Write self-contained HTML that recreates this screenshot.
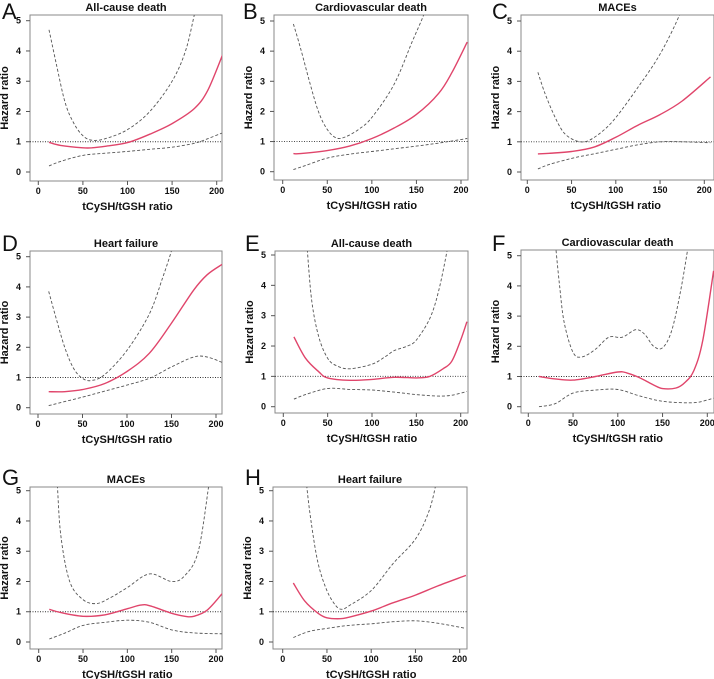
<!DOCTYPE html>
<html><head><meta charset="utf-8">
<style>
body{margin:0;background:#fff;}
svg{display:block;font-family:"Liberation Sans","DejaVu Sans",sans-serif;}
</style></head>
<body>
<svg id="fig" width="714" height="679" viewBox="0 0 714 679" xmlns="http://www.w3.org/2000/svg"></svg>
<script>
const xTicks=[0,50,100,150,200];
const yTicks=[0,1,2,3,4,5];
const titles=["All-cause death","Cardiovascular death","MACEs","Heart failure","All-cause death","Cardiovascular death","MACEs","Heart failure"];
const letters=["A","B","C","D","E","F","G","H"];
// series: [x values, y values]
const aRedX=[12,25,50,60,75,100,125,150,175,190,207];
const aRedY=[0.98,0.88,0.8,0.8,0.85,0.97,1.25,1.6,2.1,2.7,3.9];
const aUpX=[12,20,30,40,50,60,75,100,125,150,165,175,180];
const aUpY=[4.7,3.6,2.3,1.6,1.2,1.05,1.1,1.4,2.0,3.0,4.0,5.2,5.8];
const aLoX=[12,25,50,75,100,125,150,175,190,207];
const aLoY=[0.2,0.35,0.55,0.62,0.68,0.75,0.82,0.95,1.1,1.3];
const bRedX=[12,20,50,75,100,125,150,175,190,207];
const bRedY=[0.6,0.6,0.7,0.85,1.1,1.45,1.9,2.6,3.3,4.3];
const bUpX=[12,20,30,40,50,60,70,85,100,125,145,158,163];
const bUpY=[4.9,4.1,3.0,2.0,1.4,1.12,1.15,1.4,1.8,2.9,4.3,5.2,5.8];
const bLoX=[12,25,50,75,100,125,150,175,207];
const bLoY=[0.07,0.2,0.45,0.58,0.67,0.76,0.85,0.95,1.1];
const cRedX=[12,25,50,75,100,125,150,175,207];
const cRedY=[0.6,0.62,0.68,0.82,1.15,1.55,1.9,2.35,3.15];
const cUpX=[12,20,30,40,50,60,70,85,100,125,150,172,177];
const cUpY=[3.3,2.6,1.9,1.35,1.1,1.0,1.05,1.35,1.8,2.8,3.9,5.2,5.8];
const cLoX=[12,25,50,75,100,125,150,175,207];
const cLoY=[0.1,0.25,0.45,0.6,0.75,0.9,1.0,1.0,0.97];
const dRedX=[12,30,50,75,100,125,150,175,190,207];
const dRedY=[0.53,0.53,0.6,0.8,1.2,1.8,2.8,3.9,4.4,4.75];
const dUpX=[12,20,30,40,50,60,75,100,125,140,150,155];
const dUpY=[3.85,3.0,2.0,1.3,0.97,0.9,1.1,1.9,3.1,4.3,5.2,5.8];
const dLoX=[12,50,75,100,125,150,175,190,207];
const dLoY=[0.07,0.35,0.55,0.75,0.97,1.35,1.68,1.68,1.5];
const eRedX=[12,25,40,50,75,100,125,150,165,180,190,200,207];
const eRedY=[2.3,1.6,1.15,0.95,0.87,0.9,0.97,0.95,1.0,1.25,1.5,2.2,2.8];
const eUpX=[25,27,32,40,50,60,75,100,115,125,140,150,165,175,185,188];
const eUpY=[6.0,5.2,3.5,2.3,1.6,1.35,1.25,1.4,1.65,1.85,2.0,2.2,2.9,3.8,5.2,5.8];
const eLoX=[12,25,50,75,100,125,150,175,190,207];
const eLoY=[0.25,0.4,0.6,0.57,0.55,0.48,0.4,0.35,0.38,0.5];
const fRedX=[12,30,50,75,100,110,125,140,150,165,175,185,195,207];
const fRedY=[1.0,0.92,0.88,1.0,1.15,1.12,0.95,0.72,0.6,0.62,0.8,1.2,2.2,4.5];
const fUpX=[29,31,35,40,50,60,75,90,105,120,130,140,150,160,170,178,181];
const fUpY=[6.0,5.2,4.0,2.8,1.8,1.65,1.9,2.3,2.3,2.55,2.4,2.0,1.95,2.5,3.8,5.2,5.8];
const fLoX=[12,30,50,75,100,125,150,175,190,207];
const fLoY=[0.0,0.1,0.45,0.55,0.57,0.35,0.18,0.13,0.15,0.28];
const gRedX=[12,25,50,75,100,115,125,150,165,175,190,207];
const gRedY=[1.08,0.97,0.85,0.9,1.1,1.22,1.2,0.95,0.85,0.85,1.05,1.6];
const gUpX=[19,21,25,35,50,65,80,100,125,150,165,180,192,195];
const gUpY=[6.0,5.2,3.5,2.0,1.4,1.27,1.45,1.8,2.25,2.0,2.2,3.0,5.2,5.8];
const gLoX=[12,30,50,75,100,125,150,175,207];
const gLoY=[0.1,0.3,0.55,0.65,0.72,0.65,0.4,0.3,0.27];
const hRedX=[12,25,40,50,65,75,100,125,150,175,207];
const hRedY=[1.95,1.35,0.95,0.8,0.77,0.82,1.02,1.3,1.55,1.85,2.2];
const hUpX=[25,27,32,40,50,60,67,75,100,125,150,165,173,176];
const hUpY=[6.0,5.2,4.0,2.6,1.7,1.2,1.08,1.2,1.7,2.6,3.4,4.3,5.2,5.8];
const hLoX=[12,30,50,75,100,125,150,175,207];
const hLoY=[0.15,0.35,0.45,0.55,0.6,0.67,0.7,0.62,0.45];

const series=[
 [[aRedX,aRedY],[aUpX,aUpY],[aLoX,aLoY]],
 [[bRedX,bRedY],[bUpX,bUpY],[bLoX,bLoY]],
 [[cRedX,cRedY],[cUpX,cUpY],[cLoX,cLoY]],
 [[dRedX,dRedY],[dUpX,dUpY],[dLoX,dLoY]],
 [[eRedX,eRedY],[eUpX,eUpY],[eLoX,eLoY]],
 [[fRedX,fRedY],[fUpX,fUpY],[fLoX,fLoY]],
 [[gRedX,gRedY],[gUpX,gUpY],[gLoX,gLoY]],
 [[hRedX,hRedY],[hUpX,hUpY],[hLoX,hLoY]]
];
// layout: box left,right,top,bottom, x0px,x200px, y0px,y5px, letter x,y
const layout=[
 [30,222,15,181,38.3,216.7,172,20.7,2,19],
 [274,468,15,180,282.7,461,171.7,21,243,19],
 [521,714,15,180,527.3,704.3,172,21,492,19],
 [30,222,251,414,38,216,407.7,256.7,2,251],
 [275,468,251,413,283.3,460.7,406.7,255,245,251],
 [521,714,250,413,528.3,707.3,406.7,255.7,492,251],
 [30,222,487,649,38.7,216,642,490.7,2,485],
 [273,467,487,649,282.7,459.7,642,490.7,245,485]
];
const NS="http://www.w3.org/2000/svg";
const svg=document.getElementById('fig');
function mk(tag,attrs,parent){const e=document.createElementNS(NS,tag);for(const k in attrs)e.setAttribute(k,attrs[k]);(parent||svg).appendChild(e);return e;}
function smooth(pts){
 let d="M"+pts[0][0].toFixed(1)+","+pts[0][1].toFixed(1);
 for(let i=0;i<pts.length-1;i++){
  const p0=pts[Math.max(0,i-1)],p1=pts[i],p2=pts[i+1],p3=pts[Math.min(pts.length-1,i+2)];
  const c1=[p1[0]+(p2[0]-p0[0])/6,p1[1]+(p2[1]-p0[1])/6];
  const c2=[p2[0]-(p3[0]-p1[0])/6,p2[1]-(p3[1]-p1[1])/6];
  d+=" C"+c1[0].toFixed(1)+","+c1[1].toFixed(1)+" "+c2[0].toFixed(1)+","+c2[1].toFixed(1)+" "+p2[0].toFixed(1)+","+p2[1].toFixed(1);
 }
 return d;
}
layout.forEach((L,i)=>{
 const [bl,br,bt,bb,x0,x2,y0,y5,lx,ly]=L;
 const g=mk('g',{});
 
 
 const sx=v=>x0+(x2-x0)*v/200, sy=v=>y0+(y5-y0)*v/5;
 const cp=mk('clipPath',{id:'clip'+i},g);
 mk('rect',{x:bl,y:bt,width:br-bl,height:bb-bt},cp);
 const box=mk('rect',{x:bl,y:bt,width:br-bl,height:bb-bt,fill:'none',stroke:'#8a8a8a','stroke-width':1},g);
 
 
 const lt=mk('text',{x:lx,y:ly,'font-size':22,fill:'#111'},g);lt.textContent=letters[i];
 
 
 const tt=mk('text',{x:(bl+Math.min(br,714))/2,y:bt-4,'font-size':11,'font-weight':'bold','text-anchor':'middle',fill:'#111'},g);tt.textContent=titles[i];
 
 
 xTicks.forEach(t=>{
  mk('line',{x1:sx(t),x2:sx(t),y1:bb,y2:bb+4,stroke:'#555'},g);
  const tx=mk('text',{x:sx(t),y:bb+13,'font-size':9,'font-weight':'bold','text-anchor':'middle',fill:'#111'},g);tx.textContent=t;
  
  
 });
 yTicks.forEach(t=>{
  mk('line',{x1:bl-4,x2:bl,y1:sy(t),y2:sy(t),stroke:'#555'},g);
  const ty=mk('text',{x:bl-9,y:sy(t)+3,'font-size':9,'font-weight':'bold','text-anchor':'end',fill:'#111'},g);ty.textContent=t;
  
  
 });
 const xl=mk('text',{x:(x0+x2)/2,y:bb+29,'font-size':11,'font-weight':'bold','text-anchor':'middle',fill:'#111'},g);xl.textContent="tCySH/tGSH ratio";
 
 
 const yx=bl-22, yy=(bt+bb)/2;
 const yl=mk('text',{x:yx,y:yy,'font-size':11,'font-weight':'bold','text-anchor':'middle',fill:'#111',transform:`rotate(-90 ${yx} ${yy})`},g);yl.textContent="Hazard ratio";
 
 
 const cg=mk('g',{'clip-path':`url(#clip${i})`},g);
 const ref=mk('line',{x1:bl,x2:br,y1:sy(1),y2:sy(1),stroke:'#333','stroke-width':0.9,'stroke-dasharray':'1,1.5'},cg);
 
 
 series[i].forEach((s,k)=>{
  const pts=s[0].map((x,j)=>[sx(x),sy(s[1][j])]);
  const p=mk('path',{d:smooth(pts),fill:'none'},cg);
  if(k===0){p.setAttribute('stroke','#e0456b');p.setAttribute('stroke-width','1.4');}
  else{p.setAttribute('stroke','#555');p.setAttribute('stroke-width','0.9');p.setAttribute('stroke-dasharray','3,2');}
  
  
 });
});
</script>
</body></html>
